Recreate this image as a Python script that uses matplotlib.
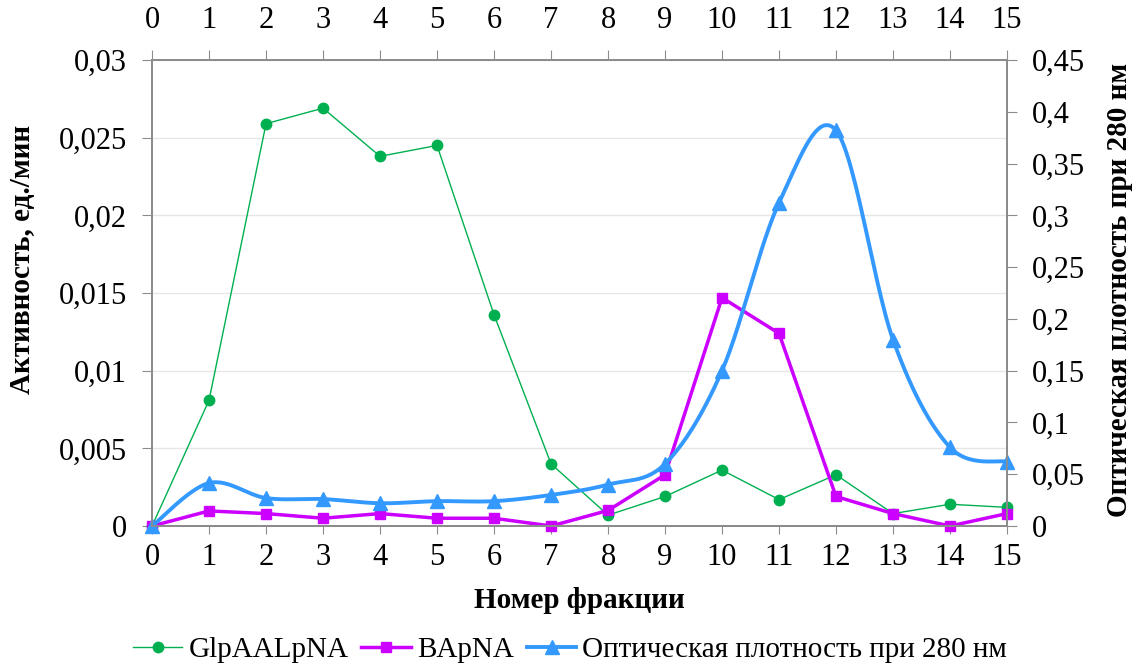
import numpy as np
import matplotlib
matplotlib.use("Agg")
import matplotlib.pyplot as plt
from matplotlib.lines import Line2D

plt.rcParams['font.family'] = ['Liberation Serif', 'DejaVu Serif']

fractions = list(range(16))
glp = [0, 0.0081, 0.0259, 0.0269, 0.0238, 0.0245, 0.0136, 0.0040, 0.0007, 0.0019,
       0.0036, 0.0017, 0.0033, 0.0008, 0.0014, 0.0012]
bapna = [0, 0.00097, 0.0008, 0.0005, 0.0008, 0.0005, 0.0005, 0, 0.001, 0.0033,
         0.0147, 0.0124, 0.0019, 0.0008, 0, 0.0008]
od280 = [0, 0.0415, 0.027, 0.026, 0.022, 0.024, 0.024, 0.030, 0.040, 0.060,
         0.150, 0.312, 0.382, 0.180, 0.076, 0.062]

left_ticks = [0, 0.005, 0.01, 0.015, 0.02, 0.025, 0.03]
right_ticks = [0, 0.05, 0.1, 0.15, 0.2, 0.25, 0.3, 0.35, 0.4, 0.45]

labels = ['GlpAALpNA', 'BApNA', 'Оптическая плотность при 280 нм']
xlabel = 'Номер фракции'
ylabel_left = 'Активность, ед./мин'
ylabel_right = 'Оптическая плотность при 280 нм'

c_green = '#00B050'
c_mag = '#CC00FF'
c_blue = '#3399FF'
c_axis = '#8C8C8C'


def smooth(x, y, n=30):
    x = np.asarray(x, float)
    y = np.asarray(y, float)
    px = np.concatenate([[x[0]], x, [x[-1]]])
    py = np.concatenate([[y[0]], y, [y[-1]]])
    xs, ys = [], []
    t = np.linspace(0, 1, n)
    for i in range(1, len(px) - 2):
        p0 = np.array([px[i], py[i]])
        p3 = np.array([px[i + 1], py[i + 1]])
        c1 = p0 + (np.array([px[i + 1], py[i + 1]]) - np.array([px[i - 1], py[i - 1]])) / 6
        c2 = p3 - (np.array([px[i + 2], py[i + 2]]) - np.array([px[i], py[i]])) / 6
        b = ((1 - t) ** 3)[:, None] * p0 + (3 * (1 - t) ** 2 * t)[:, None] * c1 + \
            (3 * (1 - t) * t ** 2)[:, None] * c2 + (t ** 3)[:, None] * p3
        xs.extend(b[:, 0])
        ys.extend(b[:, 1])
    return np.array(xs), np.array(ys)


fig = plt.figure(figsize=(11.33, 6.66), dpi=100)
ax = fig.add_axes([0.1342, 0.2102, 0.7546, 0.6997])
ax2 = ax.twinx()
ax3 = ax.twiny()

ax.set_xlim(0, 15)
ax.set_ylim(0, 0.03)
ax2.set_ylim(0, 0.45)
ax3.set_xlim(0, 15)

ax.set_yticks(left_ticks)
ax.set_yticklabels([('%g' % v).replace('.', ',') for v in left_ticks])
ax2.set_yticks(right_ticks)
ax2.set_yticklabels([('%g' % v).replace('.', ',') for v in right_ticks])
ax.set_xticks(fractions)
ax.set_xticklabels([str(v) for v in fractions])
ax3.set_xticks(fractions)
ax3.set_xticklabels([str(v) for v in fractions])

ax.yaxis.grid(True, color='#E6E6E6', linewidth=1)
ax.set_axisbelow(True)

for a in (ax, ax2, ax3):
    for s in a.spines.values():
        s.set_color(c_axis)
        s.set_linewidth(1.3)

TS = 22
ax.tick_params(axis='y', direction='out', length=7, color=c_axis, labelsize=TS, pad=11)
ax.tick_params(axis='x', direction='out', length=6, color=c_axis, labelsize=TS, pad=6)
ax2.tick_params(axis='y', direction='out', length=7, color=c_axis, labelsize=TS, pad=11)
ax3.tick_params(axis='x', direction='out', length=7, color=c_axis, labelsize=TS, pad=11)

ax.plot(fractions, glp, color=c_green, lw=1, marker='o', ms=7.5, zorder=3, clip_on=False)
ax.plot(fractions, bapna, color=c_mag, lw=2.5, marker='s', ms=7, zorder=3, clip_on=False)
sx, sy = smooth(fractions, od280)
ax2.plot(sx, sy, color=c_blue, lw=2.8, zorder=3, clip_on=False)
ax2.plot(fractions, od280, color=c_blue, lw=0, marker='^', ms=10.5, zorder=4, clip_on=False)

LS = 21
ax.set_xlabel(xlabel, fontsize=LS, fontweight='bold')
ax.set_ylabel(ylabel_left, fontsize=LS, fontweight='bold')
ax2.set_ylabel(ylabel_right, fontsize=LS, fontweight='bold')
for lab in (ax.xaxis.label, ax.yaxis.label, ax2.yaxis.label):
    lab.set_va('center')
    lab.set_ha('center')
ax.xaxis.set_label_coords(0.5, -0.159)
ax.yaxis.set_label_coords(-0.152, 0.571)
ax2.yaxis.set_label_coords(1.132, 0.506)

handles = [
    Line2D([], [], color=c_green, lw=1, marker='o', ms=7.5),
    Line2D([], [], color=c_mag, lw=2.5, marker='s', ms=7),
    Line2D([], [], color=c_blue, lw=2.8, marker='^', ms=10.5),
]
fig.legend(handles, labels, loc='center', bbox_to_anchor=(0.503, 0.024), ncol=3,
           frameon=False, fontsize=21, handlelength=1.7, handletextpad=0.2,
           columnspacing=0.45, borderpad=0, borderaxespad=0)

fig.savefig('out.png', dpi=100)
